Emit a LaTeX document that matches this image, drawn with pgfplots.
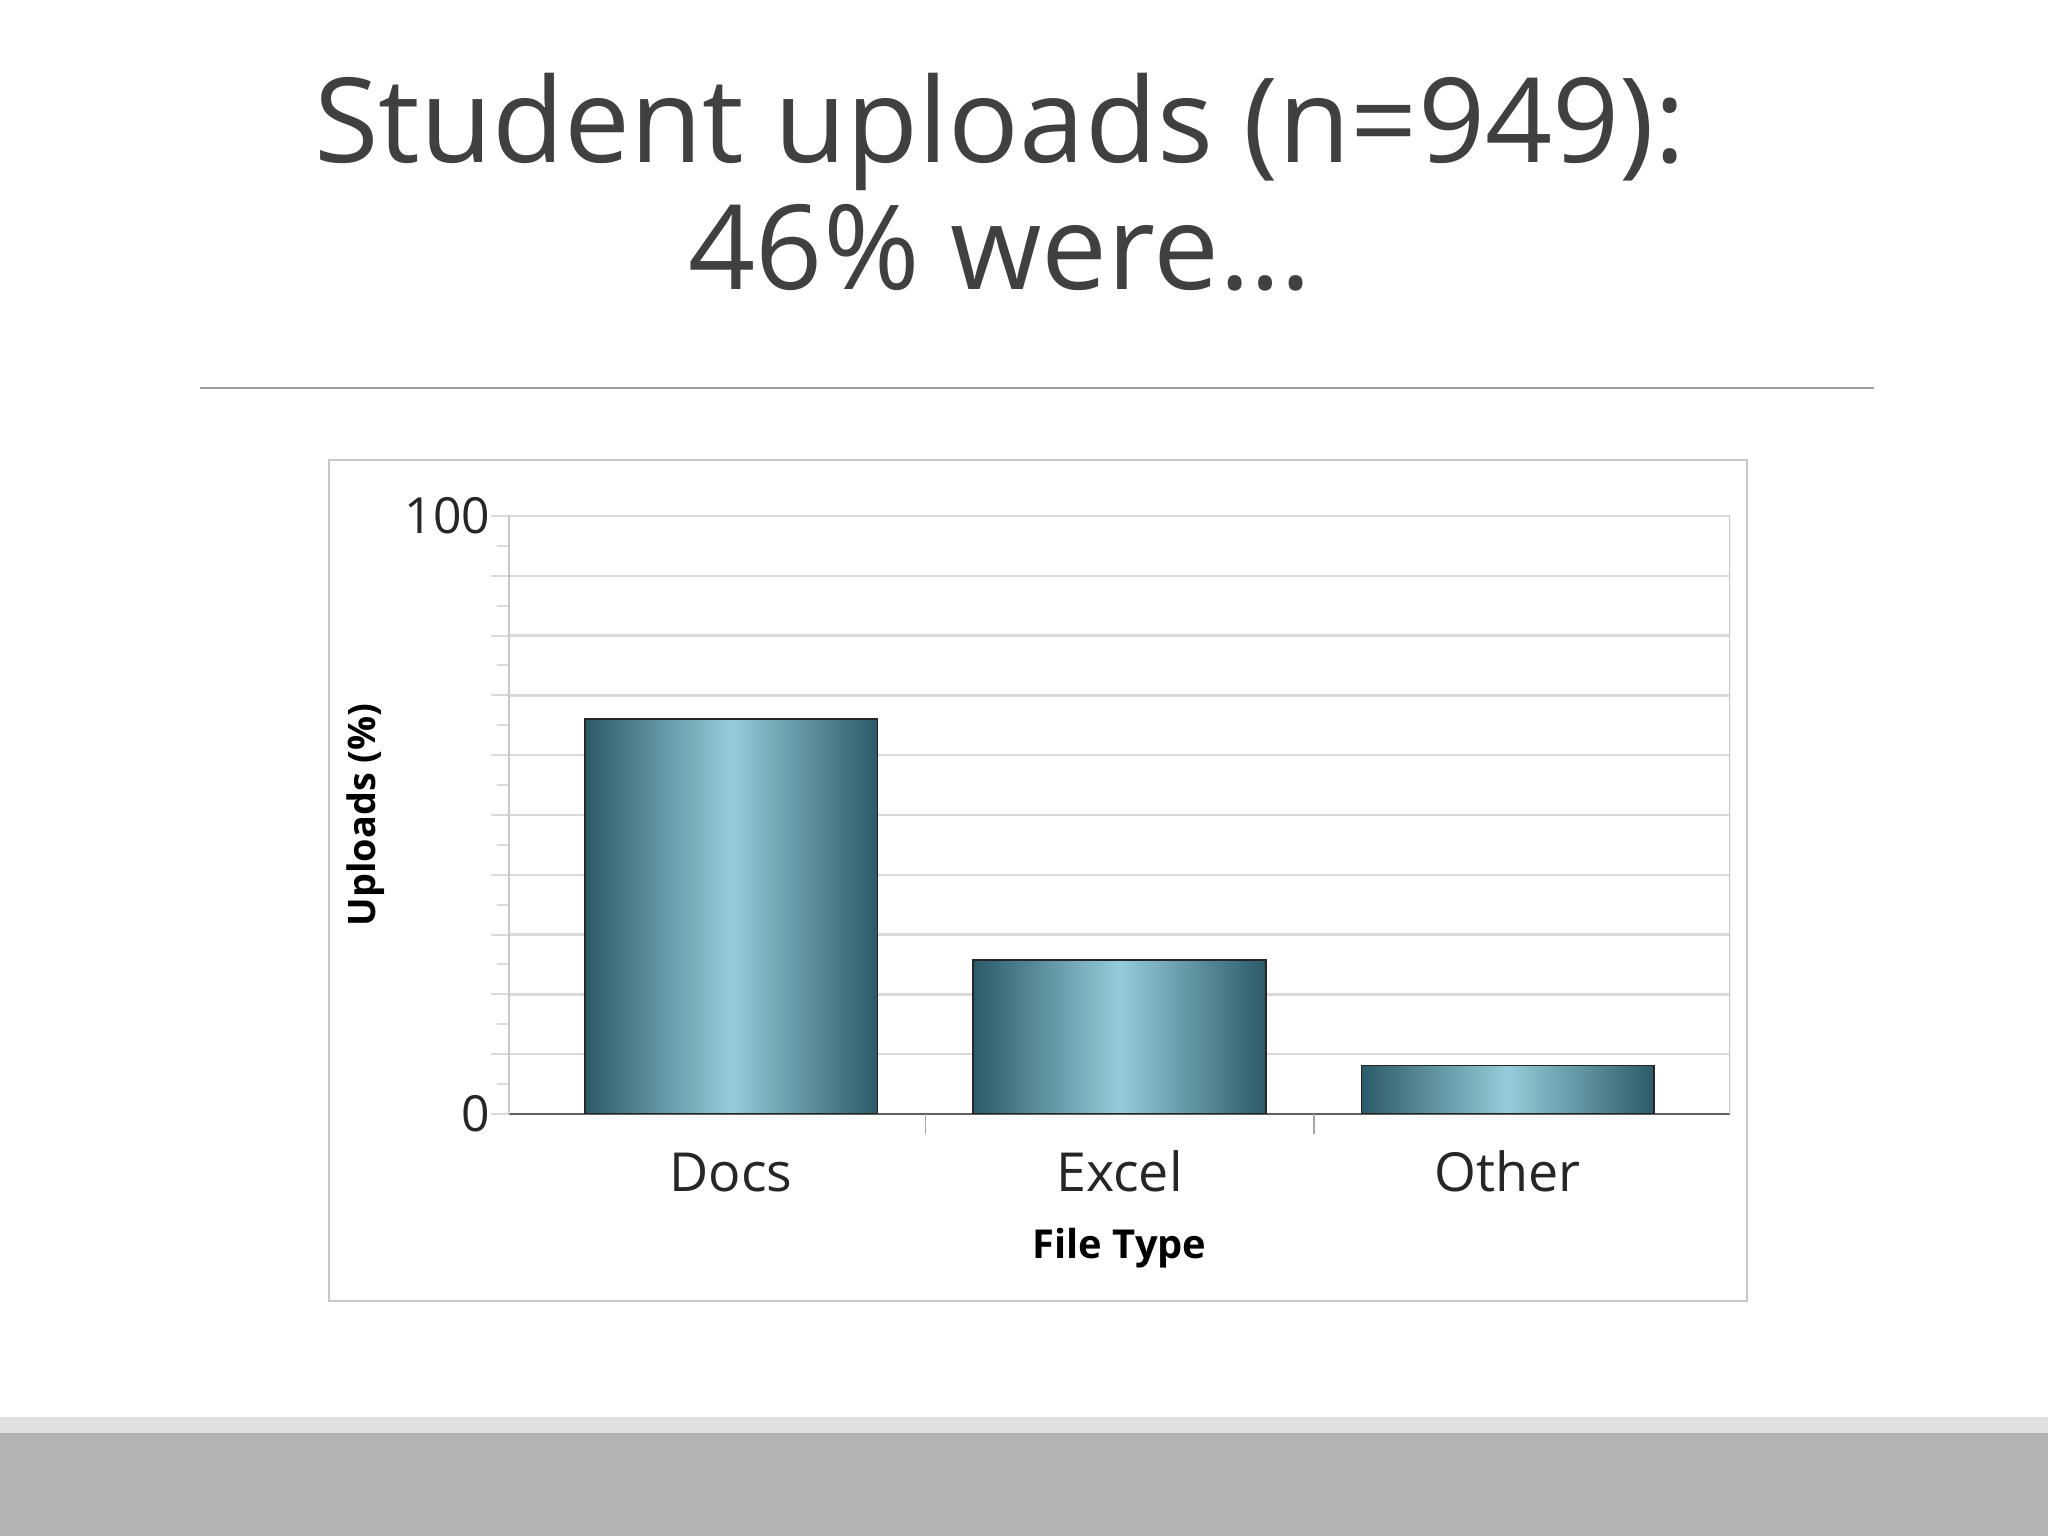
\documentclass[border=0pt]{standalone}
\usepackage{fontspec}
\setmainfont{Open Sans}
\usepackage{pgfplots}
\pgfplotsset{compat=1.18}

\definecolor{titlegray}{HTML}{404040}
\definecolor{gridgray}{HTML}{DADADA}
\definecolor{framegray}{HTML}{C8C8C8}
\definecolor{bardark}{HTML}{2B5A68}
\definecolor{barlight}{HTML}{96CCD9}
\definecolor{bandlight}{HTML}{E0E0E0}
\definecolor{banddark}{HTML}{B3B3B3}

\tikzset{tealbar/.style={draw=black!85, line width=0.45bp,
    left color=bardark, right color=bardark, middle color=barlight}}

\begin{document}
\begin{tikzpicture}[x=0.25bp,y=0.25bp]
\useasboundingbox (0,0) rectangle (2048,1536);
\fill[white] (0,0) rectangle (2048,1536);
\fill[banddark] (0,0) rectangle (2048,103);
\fill[bandlight] (0,103) rectangle (2048,119);

% slide title
\node[anchor=base, text=titlegray, font=\fontsize{29.5}{34}\selectfont, inner sep=0pt]
  at (1000,1373) {Student uploads (n=949):};
\node[anchor=base, text=titlegray, font=\fontsize{29.5}{34}\selectfont, inner sep=0pt]
  at (1000,1246) {46\% were…};
\draw[gray!75, line width=0.4bp] (200,1148) -- (1874,1148);

% chart frame
\draw[framegray, line width=0.5bp] (329,235) rectangle (1747,1076);

\begin{axis}[
    at={(127.25bp,105.5bp)}, anchor=south west,
    scale only axis, width=305.25bp, height=149.5bp,
    xmin=-0.572, xmax=2.572, ymin=0, ymax=100,
    axis lines*=left,
    every non boxed x axis/.style={},
    every non boxed y axis/.style={},
    separate axis lines,
    x axis line style={draw=gray!75!black, line width=0.4bp},
    y axis line style={draw=framegray, line width=0.5bp},
    xtick={0,1,2}, xticklabels={Docs,Excel,Other},
    xtick style={draw=none},
    extra x ticks={0.5,1.5}, extra x tick labels={},
    extra x tick style={xtick style={draw=gray!70, line width=0.4bp}, major tick length=5bp},
    ytick={0,10,...,100}, yticklabels={0,,,,,,,,,,100},
    minor ytick={5,15,...,95},
    tick align=outside, major tick length=4.5bp, minor tick length=3bp,
    ytick style={draw=gridgray, line width=0.5bp},
    minor tick style={draw=gray!60, line width=0.4bp},
    ymajorgrids, major grid style={draw=gridgray, line width=0.6bp},
    xticklabel style={anchor=base, inner sep=0pt, yshift=-15bp, text=black!85,
        font=\fontsize{13.5}{16}\selectfont},
    yticklabel style={anchor=east, inner sep=0pt, text=black!85,
        font=\fontsize{12.5}{15}\selectfont},
    xlabel={File Type},
    xlabel style={at={(axis description cs:0.5,-0.241)}, anchor=base, inner sep=0pt,
        font=\bfseries\fontsize{10}{12}\selectfont},
    ylabel={Uploads (\%)},
    ylabel style={at={(axis description cs:-0.117,0.5)}, anchor=center, inner sep=0pt,
        font=\bfseries\fontsize{9.5}{11}\selectfont},
    ybar, bar width=0.754, bar shift=0pt,
]
% one plot per bar so each bar gets its own gradient
\addplot[tealbar] coordinates {(0,66.1)};
\addplot[tealbar] coordinates {(1,25.8)};
\addplot[tealbar] coordinates {(2,8.1)};
\draw[framegray, line width=0.5bp] (rel axis cs:1,0) -- (rel axis cs:1,1);
\end{axis}
\end{tikzpicture}
\end{document}
